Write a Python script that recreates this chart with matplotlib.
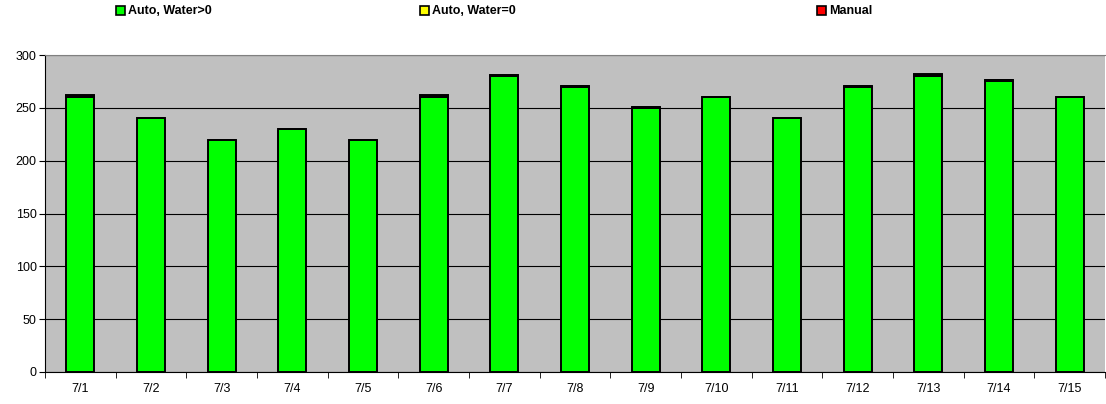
import numpy as np
import matplotlib
matplotlib.use('Agg')
from matplotlib import pyplot as plt
from matplotlib.patches import Rectangle

days = ['7/1', '7/2', '7/3', '7/4', '7/5', '7/6', '7/7', '7/8',
        '7/9', '7/10', '7/11', '7/12', '7/13', '7/14', '7/15']
auto_water = [260, 240, 220, 230, 220, 260, 280, 270, 250, 260, 240, 270, 280, 275, 260]
auto_dry = [1, 0, 0, 0, 0, 1, 1, 1, 0.5, 0.5, 0.5, 0.5, 1, 1, 0.5]
manual = [1, 0, 0, 0, 0, 1, 0, 0, 0, 0, 0, 0, 1, 0.5, 0]
labels = ['Auto, Water>0', 'Auto, Water=0', 'Manual']
colors = ['#00ff00', '#ffff00', '#ff0000']

plt.rcParams['font.family'] = ['Liberation Sans', 'DejaVu Sans']

fig = plt.figure(figsize=(11.06, 4.04), dpi=100)
ax = fig.add_axes([45 / 1106, 32 / 404, 1060 / 1106, 317 / 404])
ax.set_facecolor('#c0c0c0')

x = np.arange(len(days))
w = 0.4
ax.bar(x, auto_water, w, color=colors[0], edgecolor='black', linewidth=1.4, zorder=3)
ax.bar(x, auto_dry, w, bottom=auto_water, color=colors[1], edgecolor='black', linewidth=1.4, zorder=3)
bottom2 = np.array(auto_water) + np.array(auto_dry)
ax.bar(x, manual, w, bottom=bottom2, color=colors[2], edgecolor='black', linewidth=1.4, zorder=3)

ax.set_xlim(-0.5, len(days) - 0.5)
ax.set_ylim(0, 300)
ax.set_yticks(range(0, 301, 50))
ax.set_xticks(x)
ax.set_xticklabels(days, fontsize=9)
ax.set_xticks(np.arange(-0.5, len(days), 1), minor=True)
ax.tick_params(axis='x', which='major', length=0, pad=8)
ax.tick_params(axis='x', which='minor', length=4, color='black')
ax.tick_params(axis='y', labelsize=9, length=4, color='black', pad=2)
ax.yaxis.grid(True, color='black', linewidth=0.8, zorder=1)
ax.set_axisbelow(True)

ax.spines['top'].set_color('#808080')
ax.spines['right'].set_visible(False)
ax.spines['left'].set_color('black')
ax.spines['bottom'].set_color('black')

# legend across the top
leg_x = [116, 420, 817]
for lx, lab, c in zip(leg_x, labels, colors):
    fig.patches.append(Rectangle((lx / 1106, 1 - 15 / 404), 9 / 1106, 9 / 404,
                                 transform=fig.transFigure, facecolor=c,
                                 edgecolor='black', linewidth=1.2))
    fig.text((lx + 12) / 1106, 1 - 10.5 / 404, lab, fontsize=9, fontweight='bold',
             va='center', ha='left')

fig.savefig('out.png', dpi=100)
